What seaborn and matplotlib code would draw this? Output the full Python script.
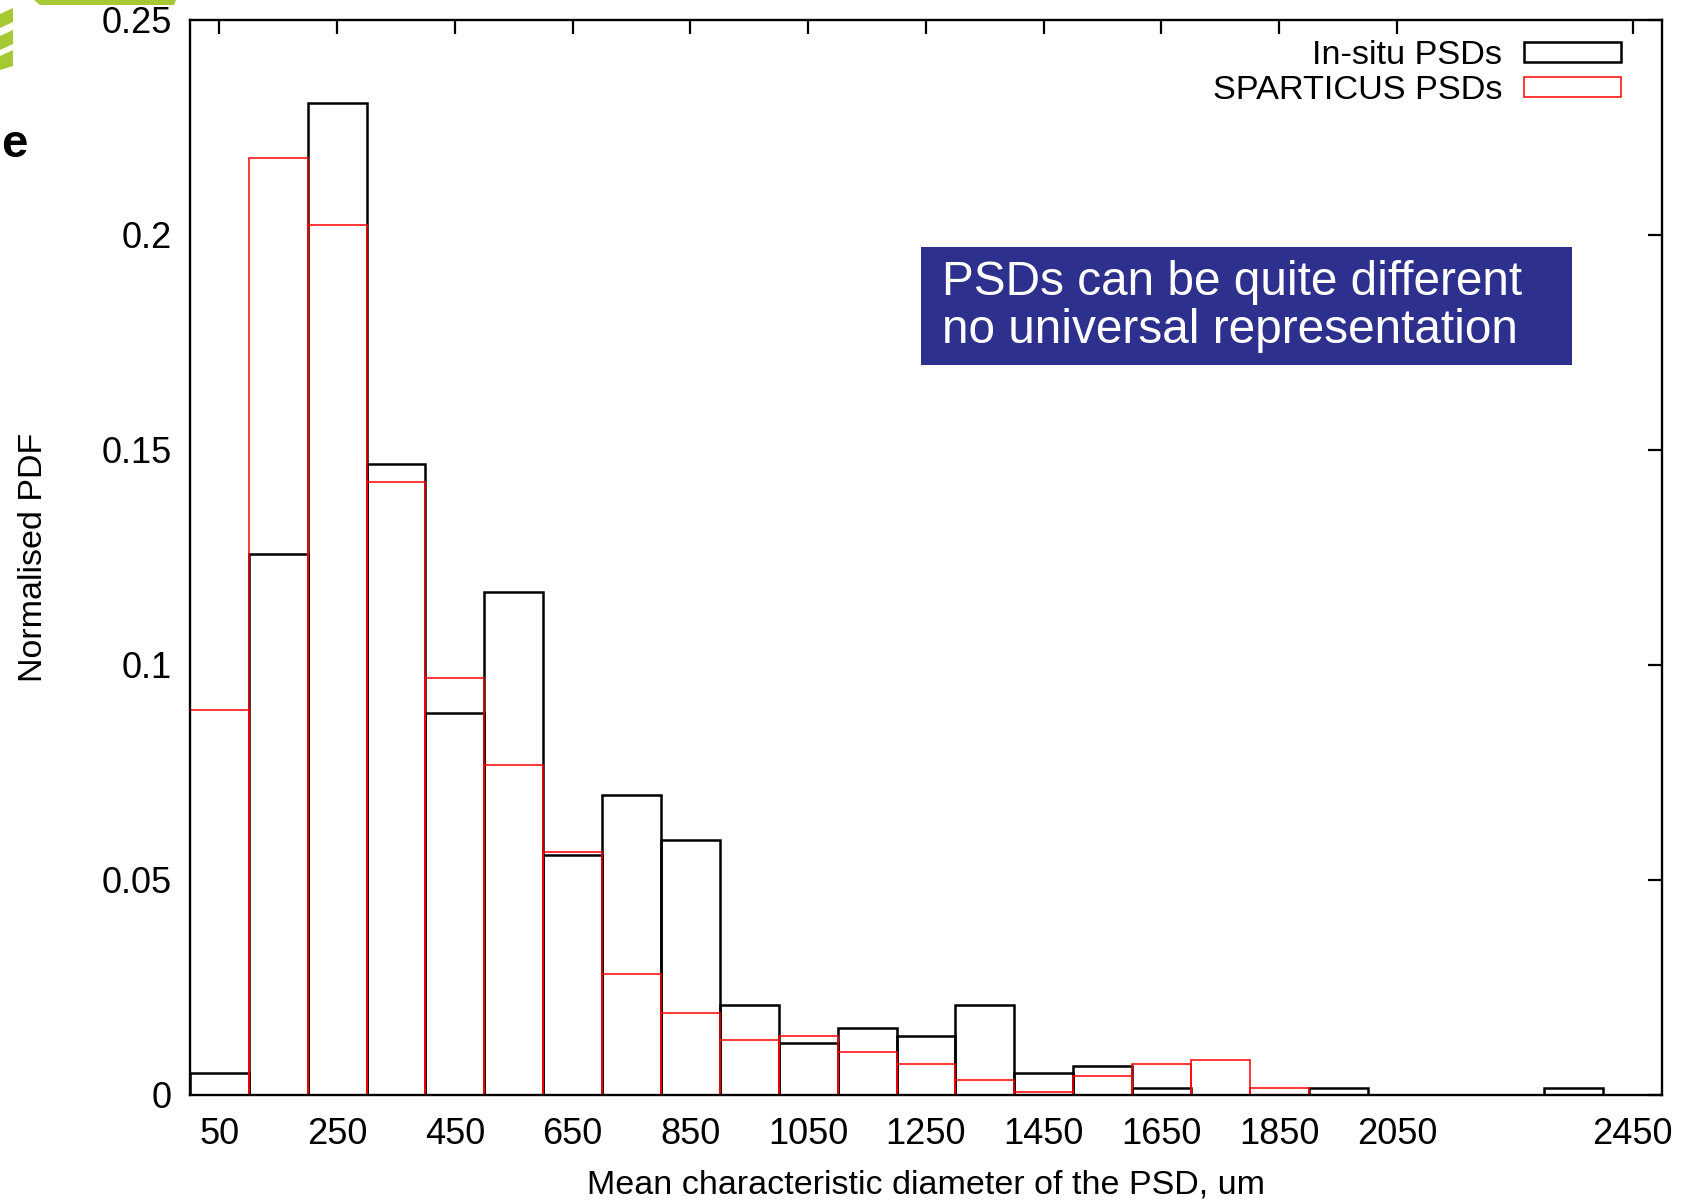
import numpy as np
import pandas as pd
import seaborn as sns
import matplotlib.pyplot as plt
from matplotlib.patches import Polygon, Rectangle

# Histogram bins (um) and normalised PDFs per bin
bin_edges = list(range(0, 2600, 100))
bin_centres = [e + 50 for e in bin_edges[:-1]]

insitu_pdf = [0.0050, 0.1257, 0.2306, 0.1467, 0.0889, 0.1169, 0.0558, 0.0697,
              0.0592, 0.0209, 0.0120, 0.0155, 0.0138, 0.0209, 0.0050, 0.0068,
              0.0017, 0.0, 0.0, 0.0017, 0.0, 0.0, 0.0, 0.0017, 0.0]
sparticus_pdf = [0.0895, 0.2177, 0.2022, 0.1426, 0.0970, 0.0768, 0.0566, 0.0282,
                 0.0191, 0.0127, 0.0136, 0.0100, 0.0071, 0.0036, 0.0008, 0.0044,
                 0.0071, 0.0081, 0.0017, 0.0, 0.0, 0.0, 0.0, 0.0, 0.0]

x_ticks = [50, 250, 450, 650, 850, 1050, 1250, 1450, 1650, 1850, 2050, 2450]
y_ticks = [0, 0.05, 0.1, 0.15, 0.2, 0.25]
y_tick_labels = ["0", "0.05", "0.1", "0.15", "0.2", "0.25"]

series_names = ["In-situ PSDs", "SPARTICUS PSDs"]
note_lines = ["PSDs can be quite different", "no universal representation"]

df = pd.DataFrame({
    "diameter": bin_centres,
    series_names[0]: insitu_pdf,
    series_names[1]: sparticus_pdf,
})

sns.set_style("white")
plt.rcParams["font.family"] = ["Liberation Sans", "DejaVu Sans"]
plt.rcParams["text.color"] = "black"
plt.rcParams["axes.labelcolor"] = "black"
plt.rcParams["xtick.color"] = "black"
plt.rcParams["ytick.color"] = "black"

W, H = 1694, 1200
fig = plt.figure(figsize=(W / 100, H / 100), dpi=100)
fig.patch.set_facecolor("white")

ax_l, ax_r, ax_t, ax_b = 189.9, 1662.0, 19.5, 1095.0
ax = fig.add_axes([ax_l / W, 1 - ax_b / H, (ax_r - ax_l) / W, (ax_b - ax_t) / H])

sns.histplot(data=df, x="diameter", weights=series_names[0], bins=bin_edges,
             fill=False, color="black", linewidth=1.8, ax=ax,
             label=series_names[0])
sns.histplot(data=df, x="diameter", weights=series_names[1], bins=bin_edges,
             fill=False, color="#ff0000", linewidth=1.1, ax=ax,
             label=series_names[1])

ax.set_xlim(0, 2500)
ax.set_ylim(0, 0.25)
ax.set_xticks(x_ticks)
ax.set_xticklabels([str(t) for t in x_ticks])
ax.set_yticks(y_ticks)
ax.set_yticklabels(y_tick_labels)

fs_tick = 26
fs_label = 24.5
fs_legend = 24.7
ax.tick_params(axis="both", direction="in", length=10, width=1.6,
               labelsize=fs_tick, top=True, right=True)
ax.tick_params(axis="x", pad=16)
ax.tick_params(axis="y", pad=13)
for sp in ax.spines.values():
    sp.set_visible(True)
    sp.set_color("black")
    sp.set_linewidth(1.7)
    sp.set_zorder(5)

ax.set_xlabel("Mean characteristic diameter of the PSD, um", fontsize=fs_label)
ax.set_ylabel("Normalised PDF", fontsize=fs_label)
ax.xaxis.set_label_coords(0.5, -0.069)
ax.yaxis.set_label_coords(-0.0956, 0.5)

leg = ax.legend(loc="upper right", bbox_to_anchor=(0.9722, 0.981),
                frameon=False, fontsize=fs_legend, markerfirst=False,
                handlelength=2.84, handleheight=0.5, handletextpad=0.63,
                labelspacing=0.12, borderpad=0.0, borderaxespad=0.0)

# annotation box
def axfx(px):
    return (px - ax_l) / (ax_r - ax_l)

def axfy(py):
    return (ax_b - py) / (ax_b - ax_t)

bx0, bx1, by0, by1 = 920.5, 1572.0, 247.4, 365.2
ax.add_patch(Rectangle((axfx(bx0), axfy(by1)), axfx(bx1) - axfx(bx0),
                       axfy(by0) - axfy(by1), transform=ax.transAxes,
                       facecolor="#2e308e", edgecolor="none", zorder=6))
for line, base in zip(note_lines, [295, 343]):
    ax.text(axfx(942), axfy(base), line, transform=ax.transAxes,
            color="white", fontsize=34.4, ha="left", va="baseline", zorder=7)

# slide decoration at top-left corner
def figxy(pts):
    return [(x / W, 1 - y / H) for x, y in pts]

green = "#a6c832"
for pts in [
    [(34, 0), (176, 0), (174, 5), (40, 5)],
    [(0, 14), (13, 8), (13, 22), (0, 28)],
    [(0, 36), (13, 30), (13, 44), (0, 50)],
    [(0, 56), (13, 50), (13, 66), (0, 70)],
]:
    fig.patches.append(Polygon(figxy(pts), closed=True, transform=fig.transFigure,
                               facecolor=green, edgecolor="none"))
fig.text(1 / W, 1 - 157 / H, "e", fontsize=34, fontweight="bold",
         ha="left", va="baseline", color="black")

fig.savefig("out.png", dpi=100, facecolor="white")
